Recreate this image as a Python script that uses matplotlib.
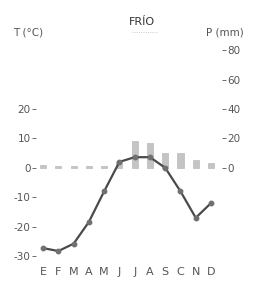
import numpy as np
import matplotlib.pyplot as plt
from matplotlib.lines import Line2D

plt.rcParams['axes.unicode_minus'] = False

# datos del climograma
meses = ['E', 'F', 'M', 'A', 'M', 'J', 'J', 'A', 'S', 'C', 'N', 'D']
temp = [-27.3, -28.3, -25.8, -18.4, -8.0, 2.0, 3.6, 3.6, 0.0, -8.0, -17.0, -12.0]
prec = [2, 1, 1, 1, 1, 4, 18, 17, 10, 10, 5, 3]
ticks_t = [-30, -20, -10, 0, 10, 20]
ticks_p = [0, 20, 40, 60, 80]

gris = '#555555'
fig = plt.figure(figsize=(2.54, 2.91), dpi=100)
ax = fig.add_axes([0.142, 0.110, 0.732, 0.728])
ax2 = ax.twinx()

x = np.arange(len(meses))
ax2.bar(x, prec, width=0.4, color='#c4c4c4', edgecolor='#b0b0b0', linewidth=0.4)
ax.plot(x, temp, '-', color='#4a4a4a', lw=1.6, zorder=3)
ax.plot(x, temp, 'o', color='#707070', ms=3.2, zorder=4)
ax.set_zorder(ax2.get_zorder() + 1)
ax.patch.set_visible(False)

ax.set_xlim(-0.46, 11.72)
ax.set_ylim(-31, 41)
ax2.set_ylim(-62, 82)
ax.set_xticks(x)
ax.set_xticklabels(meses)
ax.set_yticks(ticks_t)
ax2.set_yticks(ticks_p)

for a in (ax, ax2):
    for s in a.spines.values():
        s.set_visible(False)
ax.tick_params(axis='x', length=0, pad=6, labelsize=8, colors=gris)
ax.tick_params(axis='y', length=3, width=0.6, pad=1, labelsize=7.5, colors=gris)
ax2.tick_params(axis='y', length=3, width=0.6, pad=1, labelsize=7.5, colors=gris)
for a in (ax, ax2):
    for t in a.yaxis.get_ticklines():
        t.set_color('#999999')

fig.text(0.56, 0.925, 'FRÍO', ha='center', va='center', fontsize=8, color='#333333')
fig.text(0.11, 0.89, 'T (°C)', ha='center', va='center', fontsize=7.5, color=gris)
fig.text(0.885, 0.89, 'P (mm)', ha='center', va='center', fontsize=7.5, color=gris)
fig.lines.append(Line2D([0.52, 0.62], [0.89, 0.89], transform=fig.transFigure,
                        color='#bbbbbb', lw=0.6, ls=':'))

fig.savefig('out.png', dpi=100)
